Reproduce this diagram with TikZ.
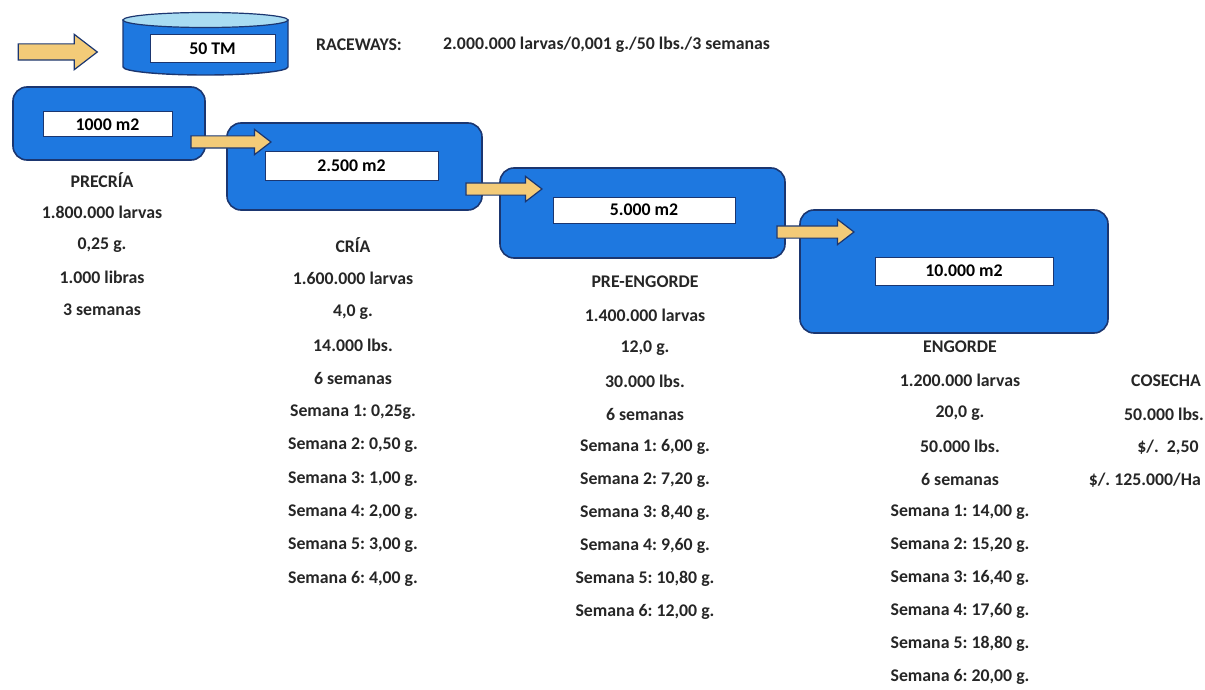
\documentclass[tikz,border=0pt]{standalone}
\usepackage{fontspec}
\setmainfont{Carlito}
\usetikzlibrary{shapes.arrows}
\frenchspacing
\definecolor{boxblue}{HTML}{1E78E0}
\definecolor{navy}{HTML}{1B3670}
\definecolor{arrowfill}{HTML}{F3CB78}
\definecolor{toplight}{HTML}{A9DCF2}
\newcommand\labfont{\fontsize{17.8}{20}\selectfont\bfseries}
\tikzset{
  pond/.style={draw=navy, line width=1.6pt, fill=boxblue, rounded corners=14pt, inner sep=0pt},
  labelbox/.style={draw=navy, line width=1pt, fill=white, font=\labfont, inner sep=0pt},
  flowarrow/.style={single arrow, draw=navy, line width=1.2pt, fill=arrowfill,
    single arrow head extend=6.5pt, inner sep=0pt, single arrow tip angle=75},
  txt/.style={font=\labfont, inner sep=0pt, text=black!85}
}
\begin{document}
\frenchspacing
\begin{tikzpicture}[x=1pt, y=-1pt]
\useasboundingbox (0,0) rectangle (1205,690);
% top arrow and cylinder
\node[flowarrow, single arrow head extend=9.5pt, minimum height=79pt] (a0) at (52.5,52) {\rule{0pt}{15pt}};
\draw[navy, line width=1.4pt, fill=boxblue] (123,20) -- (123,67) arc[start angle=180, end angle=0, x radius=82.5, y radius=8] -- (288,20) -- cycle;
\draw[navy, line width=1.2pt, fill=toplight] (205.5,20) ellipse [x radius=82.5, y radius=7.5];
\node[labelbox, minimum width=125pt, minimum height=28pt] (tm) at (212.5,49) {50 TM};
\node[txt, anchor=west] (rw) at (316,45) {RACEWAYS:};
\node[txt, anchor=west] (rwd) at (443,45) {2.000.000 larvas/0,001 g./50 lbs./3 semanas};
% ponds
\node[pond, minimum width=192pt, minimum height=73pt] (p1) at (109,123.5) {};
\node[pond, minimum width=255pt, minimum height=87pt] (p2) at (354.5,166.5) {};
\node[pond, minimum width=285pt, minimum height=90pt] (p3) at (642.5,213) {};
\node[pond, minimum width=308pt, minimum height=123pt] (p4) at (954,271.5) {};
\node[labelbox, minimum width=129pt, minimum height=25pt] (l1) at (107.5,124.5) {1000 m2};
\node[labelbox, minimum width=173pt, minimum height=28pt] (l2) at (351.5,166) {2.500 m2};
\node[labelbox, minimum width=182pt, minimum height=26pt] (l3) at (644,210) {5.000 m2};
\node[labelbox, minimum width=178pt, minimum height=28pt] (l4) at (964,271) {10.000 m2};
% arrows between ponds
\node[flowarrow, minimum height=80pt] (a1) at (227,142) {\rule{0pt}{11pt}};
\node[flowarrow, minimum height=76pt] (a2) at (500,189) {\rule{0pt}{11pt}};
\node[flowarrow, minimum height=77pt] (a3) at (811.5,232) {\rule{0pt}{11pt}};
% columns
\foreach \t [count=\i] in {PRECRÍA, 1.800.000 larvas, {0,25 g.}, 1.000 libras, 3 semanas}
  \node[txt] (c1-\i) at (102, {180+32.5*(\i-1)}) {\t};
\foreach \t [count=\i] in {CRÍA, 1.600.000 larvas, {4,0 g.}, 14.000 lbs., 6 semanas,
   {Semana 1: 0,25g.}, {Semana 2: 0,50 g.}, {Semana 3: 1,00 g.}, {Semana 4: 2,00 g.},
   {Semana 5: 3,00 g.}, {Semana 6: 4,00 g.}}
  \node[txt] (c2-\i) at (353, {245+33.4*(\i-1)}) {\t};
\foreach \t [count=\i] in {PRE-ENGORDE, 1.400.000 larvas, {12,0 g.}, 30.000 lbs., 6 semanas,
   {Semana 1: 6,00 g.}, {Semana 2: 7,20 g.}, {Semana 3: 8,40 g.}, {Semana 4: 9,60 g.},
   {Semana 5: 10,80 g.}, {Semana 6: 12,00 g.}}
  \node[txt] (c3-\i) at (645, {282+33*(\i-1)}) {\t};
\foreach \t [count=\i] in {ENGORDE, 1.200.000 larvas, {20,0 g.}, 50.000 lbs., 6 semanas,
   {Semana 1: 14,00 g.}, {Semana 2: 15,20 g.}, {Semana 3: 16,40 g.}, {Semana 4: 17,60 g.},
   {Semana 5: 18,80 g.}, {Semana 6: 20,00 g.}}
  \node[txt] (c4-\i) at (960, {347+33*(\i-1)}) {\t};
\node[txt] (c5-1) at (1166,381) {COSECHA};
\node[txt] (c5-2) at (1164,414) {50.000 lbs.};
\node[txt] (c5-3) at (1168,447) {\$/.\ \ 2,50};
\node[txt, anchor=east] (c5-4) at (1201,480) {\$/. 125.000/Ha};
\end{tikzpicture}
\end{document}
